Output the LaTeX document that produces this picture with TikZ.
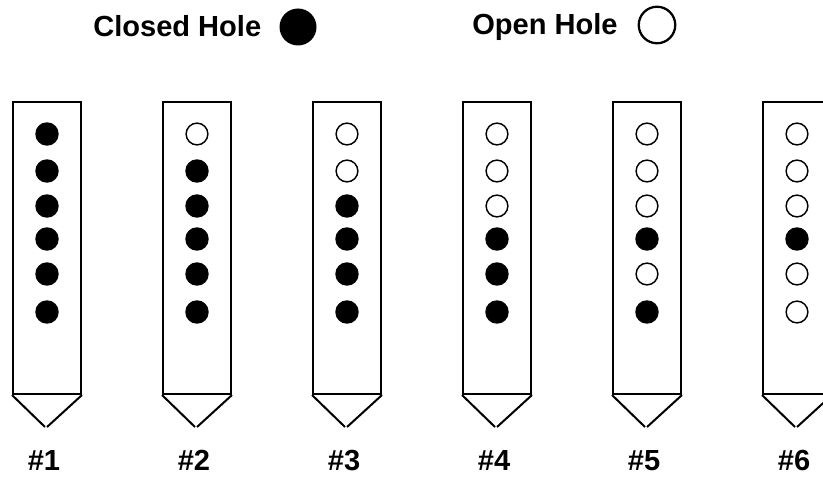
\documentclass[tikz,border=0pt]{standalone}
\usepackage{fontspec}
\setmainfont{Liberation Sans}
\begin{document}
\begin{tikzpicture}[x=0.75pt,y=-0.75pt,
  body/.style={draw=black, line width=1.5pt, fill=white, inner sep=0pt,
    minimum width=51pt, minimum height=219pt, anchor=north west},
  tipline/.style={draw=black, line width=1.5pt},
  hole1/.style={circle, fill=black, minimum size=17.6pt, inner sep=0pt},
  hole0/.style={circle, draw=black, line width=1.1pt, fill=white, minimum size=16.3pt, inner sep=0pt},
  lbl/.style={font=\bfseries\fontsize{21.8}{24}\selectfont, inner sep=0pt},
  numlbl/.style={lbl, text depth=0pt, anchor=base}]
\clip (0,0) rectangle (823,478);
\fill[white] (0,0) rectangle (823,478);
% legend
\node[lbl, anchor=base west] (closedtxt) at (93,37) {Closed Hole};
\node[circle, fill=black, minimum size=27.75pt, inner sep=0pt] (closedkey) at (298,27) {};
\node[lbl, anchor=base west] (opentxt) at (472,35) {Open Hole};
\node[circle, draw=black, line width=1.7pt, fill=white, minimum size=27.4pt, inner sep=0pt] (openkey) at (657,25) {};
% whistles
\foreach \n/\pat in {1/{1,1,1,1,1,1}, 2/{0,1,1,1,1,1}, 3/{0,0,1,1,1,1},
                     4/{0,0,0,1,1,1}, 5/{0,0,0,1,0,1}, 6/{0,0,0,1,0,0}} {
  \pgfmathsetmacro\L{12+150*(\n-1)}
  \node[body] (w\n) at (\L,101) {};
  \coordinate (tl\n) at (\L+33,427);
  \coordinate (tr\n) at (\L+35,427);
  \draw[tipline] (w\n.south west) -- (tl\n);
  \draw[tipline] (w\n.south east) -- (tr\n);
  \foreach \s [count=\k] in \pat {
    \pgfmathsetmacro\yy{{134,171,206,239,274,312}[\k-1]}
    \node[hole\s] (h\n-\k) at (\L+35,\yy) {};
  }
  \node[numlbl] (lab\n) at (\L+32,470) {\#\n};
}
\end{tikzpicture}
\end{document}
